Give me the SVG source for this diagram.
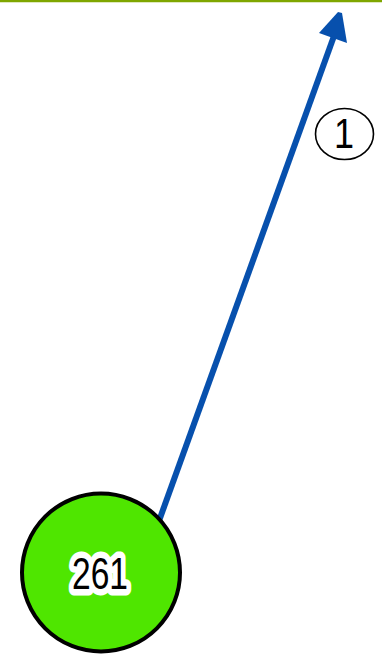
<svg xmlns="http://www.w3.org/2000/svg" width="382" height="664" viewBox="0 0 382 664">
<style>
.edge{stroke:#0750ad;stroke-width:6;fill:none}
.head{fill:#0750ad}
.node{fill:#4fe600;stroke:#000;stroke-width:4}
.lbl{font-family:"Liberation Sans",Arial,sans-serif;text-anchor:middle}
</style>
<rect width="382" height="664" fill="#fff"/>
<line x1="0" y1="1" x2="382" y2="1" stroke="#7fa600" stroke-width="2.5"/>
<g id="connectors">
<line class="edge" x1="155" y1="532" x2="334" y2="36"/>
<polygon class="head" points="338,12 342,13 347,43 319,33"/>
</g>
<g id="edge-label-1">
<ellipse cx="344.5" cy="134" rx="29" ry="25.5" fill="#fff" stroke="#000" stroke-width="1.6"/>
<text class="lbl" x="344" y="148" font-size="42" textLength="20" lengthAdjust="spacingAndGlyphs">1</text>
</g>
<g id="node-261">
<circle class="node" cx="101" cy="572.5" r="79"/>
<text class="lbl" x="100" y="589" font-size="45" textLength="56" lengthAdjust="spacingAndGlyphs" stroke="#fff" stroke-width="13" stroke-linejoin="round" fill="#fff">261</text>
<text class="lbl" x="100" y="589" font-size="45" textLength="56" lengthAdjust="spacingAndGlyphs" fill="#000">261</text>
</g>
</svg>
